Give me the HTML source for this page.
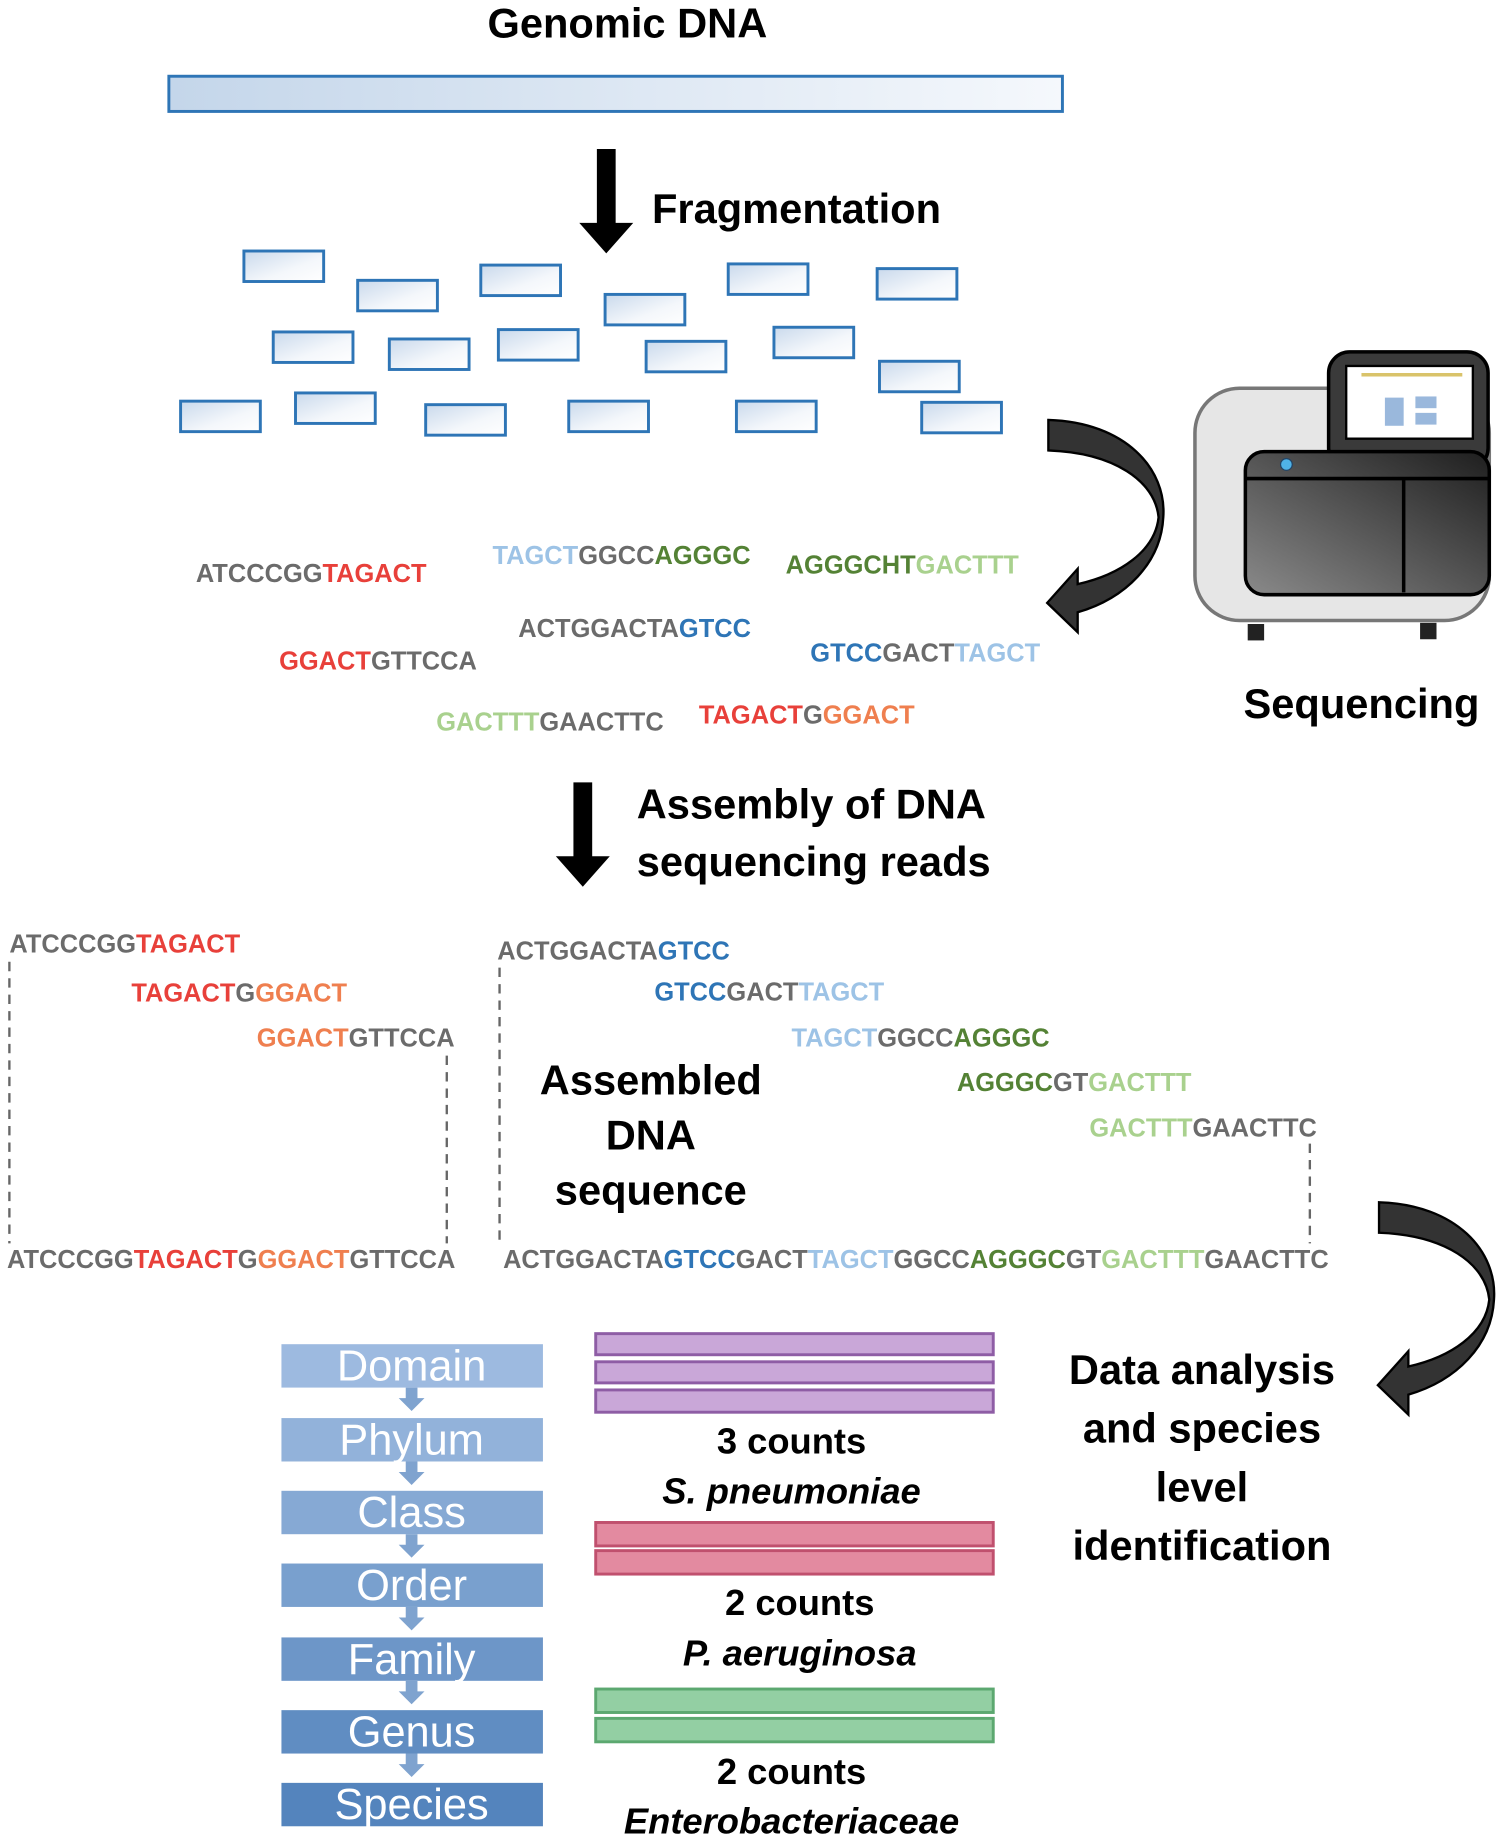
<!DOCTYPE html>
<html><head><meta charset="utf-8"><style>
html,body{margin:0;padding:0;background:#fff;}
svg{display:block;}
text{font-family:"Liberation Sans",sans-serif;font-weight:bold;}
.s{font-size:21.7px;}
.g{fill:#6b6b6b}.r{fill:#e8403a}.o{fill:#ef7f4f}.b{fill:#2e75b6}.lb{fill:#9dc3e6}.dg{fill:#548235}.lg{fill:#a9d18e}
.t{font-size:35.5px;fill:#000}
.tx{font-size:37px;fill:#fff;font-weight:normal;text-anchor:middle}
</style></head><body>
<svg width="1501" height="1838" viewBox="0 0 1280 1567" preserveAspectRatio="none" xmlns="http://www.w3.org/2000/svg">
<defs>
<linearGradient id="fr" x1="0" y1="0" x2="1" y2="1"><stop offset="0" stop-color="#c9d9ec"/><stop offset="0.6" stop-color="#f4f7fb"/><stop offset="1" stop-color="#ffffff"/></linearGradient>
<linearGradient id="gb" x1="0" y1="0" x2="1" y2="0"><stop offset="0" stop-color="#c4d6ea"/><stop offset="1" stop-color="#f5f8fc"/></linearGradient>
<linearGradient id="dk" x1="0" y1="1" x2="1" y2="0"><stop offset="0" stop-color="#8a8a8a"/><stop offset="1" stop-color="#1e1e1e"/></linearGradient>
<path id="carrow" d="M894,358 C960,360 995,400 992,441 C990,480 960,510 919,522 L919,539 L893,514 L919,485 L919,498 C955,490 985,470 988,441 C985,410 950,386 894,384 Z" fill="#333" stroke="#000" stroke-width="2"/>
</defs>
<text x="535" y="32" class="t" text-anchor="middle">Genomic DNA</text>
<rect x="144" y="65" width="762" height="30" fill="url(#gb)" stroke="#2e75b6" stroke-width="2.5"/>
<polygon points="509,127 525,127 525,190 540,190 517,216 494,190 509,190" fill="#000"/>
<text x="556" y="190" class="t">Fragmentation</text>
<g fill="url(#fr)" stroke="#2e75b6" stroke-width="2.5">
<rect x="208" y="214" width="68" height="26"/><rect x="305" y="239" width="68" height="26"/><rect x="410" y="226" width="68" height="26"/>
<rect x="516" y="251" width="68" height="26"/><rect x="621" y="225" width="68" height="26"/><rect x="748" y="229" width="68" height="26"/>
<rect x="233" y="283" width="68" height="26"/><rect x="332" y="289" width="68" height="26"/><rect x="425" y="281" width="68" height="26"/>
<rect x="551" y="291" width="68" height="26"/><rect x="660" y="279" width="68" height="26"/><rect x="750" y="308" width="68" height="26"/>
<rect x="154" y="342" width="68" height="26"/><rect x="252" y="335" width="68" height="26"/><rect x="363" y="345" width="68" height="26"/>
<rect x="485" y="342" width="68" height="26"/><rect x="628" y="342" width="68" height="26"/><rect x="786" y="343" width="68" height="26"/>
</g>
<use href="#carrow"/>
<!-- sequencer -->
<rect x="1019" y="331" width="251" height="198" rx="38" fill="#e6e6e6" stroke="#777" stroke-width="3"/>
<rect x="1133" y="300" width="136" height="100" rx="18" fill="#3a3a3a" stroke="#000" stroke-width="3"/>
<rect x="1148" y="312" width="108" height="62" fill="#fff" stroke="#000" stroke-width="2"/>
<rect x="1161" y="318" width="86" height="3" fill="#d9c36a"/>
<rect x="1181" y="339" width="16" height="24" fill="#9ab8dc"/><rect x="1207" y="338" width="18" height="10" fill="#9ab8dc"/><rect x="1207" y="352" width="18" height="10" fill="#9ab8dc"/>
<rect x="1062" y="385" width="208" height="122" rx="16" fill="url(#dk)" stroke="#000" stroke-width="3"/>
<line x1="1062" y1="408" x2="1270" y2="408" stroke="#000" stroke-width="3"/>
<line x1="1197" y1="408" x2="1197" y2="505" stroke="#000" stroke-width="3"/>
<circle cx="1097" cy="396" r="5" fill="#4fb3e8" stroke="#246" stroke-width="1"/>
<rect x="1064" y="532" width="14" height="14" fill="#222"/><rect x="1211" y="531" width="14" height="14" fill="#222"/>
<text x="1161" y="612" class="t" text-anchor="middle">Sequencing</text>
<g class="s">
<text x="167" y="496"><tspan class="g">ATCCCGG</tspan><tspan class="r">TAGACT</tspan></text>
<text x="420" y="481"><tspan class="lb">TAGCT</tspan><tspan class="g">GGCC</tspan><tspan class="dg">AGGGC</tspan></text>
<text x="670" y="489"><tspan class="dg">AGGGCHT</tspan><tspan class="lg">GACTTT</tspan></text>
<text x="442" y="543"><tspan class="g">ACTGGACTA</tspan><tspan class="b">GTCC</tspan></text>
<text x="238" y="571"><tspan class="r">GGACT</tspan><tspan class="g">GTTCCA</tspan></text>
<text x="691" y="564"><tspan class="b">GTCC</tspan><tspan class="g">GACT</tspan><tspan class="lb">TAGCT</tspan></text>
<text x="372" y="623"><tspan class="lg">GACTTT</tspan><tspan class="g">GAACTTC</tspan></text>
<text x="596" y="617"><tspan class="r">TAGACT</tspan><tspan class="g">G</tspan><tspan class="o">GGACT</tspan></text>
</g>
<polygon points="489,667 505,667 505,730 520,730 497,756 474,730 489,730" fill="#000"/>
<text x="543" y="698" class="t">Assembly of DNA</text>
<text x="543" y="747" class="t">sequencing reads</text>
<g class="s">
<text x="8" y="812"><tspan class="g">ATCCCGG</tspan><tspan class="r">TAGACT</tspan></text>
<text x="112" y="854"><tspan class="r">TAGACT</tspan><tspan class="g">G</tspan><tspan class="o">GGACT</tspan></text>
<text x="219" y="892"><tspan class="o">GGACT</tspan><tspan class="g">GTTCCA</tspan></text>
<text x="6" y="1081"><tspan class="g">ATCCCGG</tspan><tspan class="r">TAGACT</tspan><tspan class="g">G</tspan><tspan class="o">GGACT</tspan><tspan class="g">GTTCCA</tspan></text>
<text x="424" y="818"><tspan class="g">ACTGGACTA</tspan><tspan class="b">GTCC</tspan></text>
<text x="558" y="853"><tspan class="b">GTCC</tspan><tspan class="g">GACT</tspan><tspan class="lb">TAGCT</tspan></text>
<text x="675" y="892"><tspan class="lb">TAGCT</tspan><tspan class="g">GGCC</tspan><tspan class="dg">AGGGC</tspan></text>
<text x="816" y="930"><tspan class="dg">AGGGC</tspan><tspan class="g">GT</tspan><tspan class="lg">GACTTT</tspan></text>
<text x="929" y="969"><tspan class="lg">GACTTT</tspan><tspan class="g">GAACTTC</tspan></text>
<text x="429" y="1081"><tspan class="g">ACTGGACTA</tspan><tspan class="b">GTCC</tspan><tspan class="g">GACT</tspan><tspan class="lb">TAGCT</tspan><tspan class="g">GGCC</tspan><tspan class="dg">AGGGC</tspan><tspan class="g">GT</tspan><tspan class="lg">GACTTT</tspan><tspan class="g">GAACTTC</tspan></text>
</g>
<g stroke="#666" stroke-width="2" stroke-dasharray="8,6">
<line x1="8" y1="820" x2="8" y2="1060"/><line x1="381" y1="900" x2="381" y2="1060"/>
<line x1="426" y1="825" x2="426" y2="1060"/><line x1="1117" y1="975" x2="1117" y2="1060"/>
</g>
<text x="555" y="933" class="t" text-anchor="middle">Assembled</text>
<text x="555" y="980" class="t" text-anchor="middle">DNA</text>
<text x="555" y="1027" class="t" text-anchor="middle">sequence</text>
<use href="#carrow" transform="translate(282,667)"/>
<text x="1025" y="1180" class="t" text-anchor="middle">Data analysis</text>
<text x="1025" y="1230" class="t" text-anchor="middle">and species</text>
<text x="1025" y="1280" class="t" text-anchor="middle">level</text>
<text x="1025" y="1330" class="t" text-anchor="middle">identification</text>
<g>
<rect x="240" y="1146" width="223" height="37" fill="#9dbae0"/>
<rect x="240" y="1209" width="223" height="37" fill="#92b2da"/>
<rect x="240" y="1271" width="223" height="37" fill="#86a9d4"/>
<rect x="240" y="1333" width="223" height="37" fill="#79a0ce"/>
<rect x="240" y="1396" width="223" height="37" fill="#6d96c8"/>
<rect x="240" y="1458" width="223" height="37" fill="#608dc2"/>
<rect x="240" y="1520" width="223" height="37" fill="#5484bd"/>
<g fill="#7fa3cf">
<polygon points="346,1183 356,1183 356,1192 362,1192 351,1203 340,1192 346,1192"/>
<polygon points="346,1246 356,1246 356,1255 362,1255 351,1266 340,1255 346,1255"/>
<polygon points="346,1308 356,1308 356,1317 362,1317 351,1328 340,1317 346,1317"/>
<polygon points="346,1370 356,1370 356,1379 362,1379 351,1390 340,1379 346,1379"/>
<polygon points="346,1433 356,1433 356,1442 362,1442 351,1453 340,1442 346,1442"/>
<polygon points="346,1495 356,1495 356,1504 362,1504 351,1515 340,1504 346,1504"/>
</g>
<text x="351" y="1177" class="tx">Domain</text>
<text x="351" y="1240" class="tx">Phylum</text>
<text x="351" y="1302" class="tx">Class</text>
<text x="351" y="1364" class="tx">Order</text>
<text x="351" y="1427" class="tx">Family</text>
<text x="351" y="1489" class="tx">Genus</text>
<text x="351" y="1551" class="tx">Species</text>
</g>
<g stroke-width="2.5">
<rect x="508" y="1137" width="339" height="18" fill="#c9a7d8" stroke="#8e5da5"/>
<rect x="508" y="1161" width="339" height="18" fill="#c9a7d8" stroke="#8e5da5"/>
<rect x="508" y="1185" width="339" height="19" fill="#c9a7d8" stroke="#8e5da5"/>
<rect x="508" y="1298" width="339" height="20" fill="#e38aa0" stroke="#c0506e"/>
<rect x="508" y="1322" width="339" height="20" fill="#e38aa0" stroke="#c0506e"/>
<rect x="508" y="1440" width="339" height="20" fill="#93cfa3" stroke="#5ca870"/>
<rect x="508" y="1465" width="339" height="20" fill="#93cfa3" stroke="#5ca870"/>
</g>
<text x="675" y="1239" class="t" text-anchor="middle" style="font-size:31px">3 counts</text>
<text x="675" y="1282" class="t" text-anchor="middle" style="font-size:31px;font-style:italic">S. pneumoniae</text>
<text x="682" y="1377" class="t" text-anchor="middle" style="font-size:31px">2 counts</text>
<text x="682" y="1420" class="t" text-anchor="middle" style="font-size:31px;font-style:italic">P. aeruginosa</text>
<text x="675" y="1521" class="t" text-anchor="middle" style="font-size:31px">2 counts</text>
<text x="675" y="1563" class="t" text-anchor="middle" style="font-size:31px;font-style:italic">Enterobacteriaceae</text>
</svg>
</body></html>
